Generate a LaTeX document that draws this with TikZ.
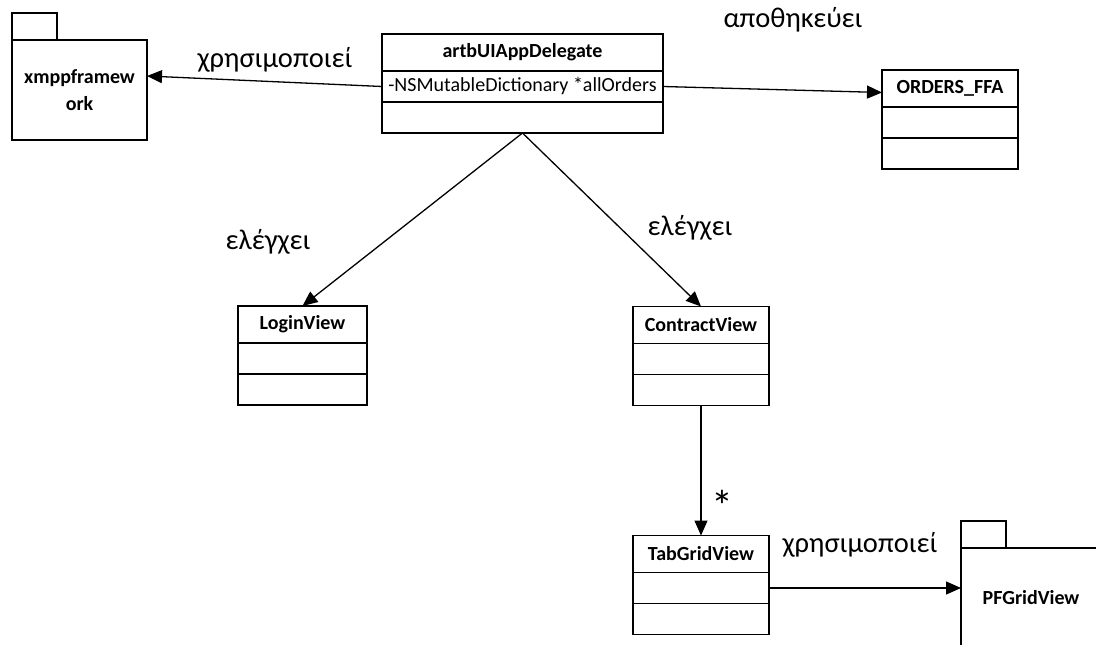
\documentclass[tikz,border=0pt]{standalone}
\usepackage{fontspec}
\setmainfont{Carlito}
\usetikzlibrary{arrows.meta,positioning}
\tikzset{
  head/.style={draw, line width=1.3pt, outer sep=0pt, inner sep=0pt, minimum height=37pt, font=\bfseries\fontsize{20}{22}\selectfont},
  row/.style={draw, line width=1.3pt, outer sep=0pt, inner sep=0pt, minimum height=31pt, font=\fontsize{20}{22}\selectfont},
  pkg/.style={draw, line width=1.3pt, outer sep=0pt, inner sep=0pt, minimum width=135pt, minimum height=100pt, align=center, font=\bfseries\fontsize{20}{27}\selectfont},
  pkgtab/.style={draw, line width=1.3pt, outer sep=0pt, inner sep=0pt, minimum width=45pt, minimum height=27pt, anchor=south west},
  arrow/.style={-{Triangle[length=15pt,width=13pt]}, line width=1.3pt},
  lbl/.style={font=\fontsize{28.5}{32}\selectfont}
}
\begin{document}
\begin{tikzpicture}[x=1pt, y=-1pt]
  \clip (0,0) rectangle (1096,645);

  % packages
  \node[pkg] (xmpp) at (79.5,90) {xmppframew\\ork};
  \node[pkgtab] (xmpptab) at (xmpp.north west) {};
  \node[pkg, minimum width=140pt] (pf) at (1031,598) {PFGridView};
  \node[pkgtab] (pftab) at (pf.north west) {};

  % classes
  \node[head, minimum width=281pt] (app) at (522.5,52.5) {artbUIAppDelegate};
  \node[row, minimum width=281pt, below=0pt of app] (appattr) {-NSMutableDictionary *allOrders};
  \node[row, minimum width=281pt, below=0pt of appattr] (appops) {};

  \node[head, minimum width=136pt] (orders) at (950,88.5) {ORDERS\_FFA};
  \node[row, minimum width=136pt, below=0pt of orders] (ordersattr) {};
  \node[row, minimum width=136pt, below=0pt of ordersattr] (ordersops) {};

  \node[head, minimum width=129pt] (login) at (302.5,324.5) {LoginView};
  \node[row, minimum width=129pt, below=0pt of login] (loginattr) {};
  \node[row, minimum width=129pt, below=0pt of loginattr] (loginops) {};

  \node[head, minimum width=136pt] (contract) at (701,325) {ContractView};
  \node[row, minimum width=136pt, below=0pt of contract] (contractattr) {};
  \node[row, minimum width=136pt, below=0pt of contractattr] (contractops) {};

  \node[head, minimum width=136pt] (tab) at (701,554) {TabGridView};
  \node[row, minimum width=136pt, below=0pt of tab] (tabattr) {};
  \node[row, minimum width=136pt, below=0pt of tabattr] (tabops) {};

  % connectors
  \draw[arrow] (appattr.west) -- ([yshift=14pt]xmpp.east);
  \draw[arrow] (appattr.east) -- ([yshift=-4pt]orders.west);
  \draw[arrow] (appops.south) -- (login.north);
  \draw[arrow] (appops.south) -- (contract.north);
  \draw[arrow] (contractops.south) -- (tab.north);
  \draw[arrow] (tabattr.east) -- (tabattr.east -| pf.west);

  % labels
  \node[lbl] (uses1) at (275,60) {χρησιμοποιεί};
  \node[lbl] (stores) at (793,20) {αποθηκεύει};
  \node[lbl] (ctrl1) at (268,242) {ελέγχει};
  \node[lbl] (ctrl2) at (690,228) {ελέγχει};
  \node[lbl, font=\fontsize{44}{48}\selectfont] (mult) at (722,506) {*};
  \node[lbl] (uses2) at (860,545) {χρησιμοποιεί};
\end{tikzpicture}
\end{document}
